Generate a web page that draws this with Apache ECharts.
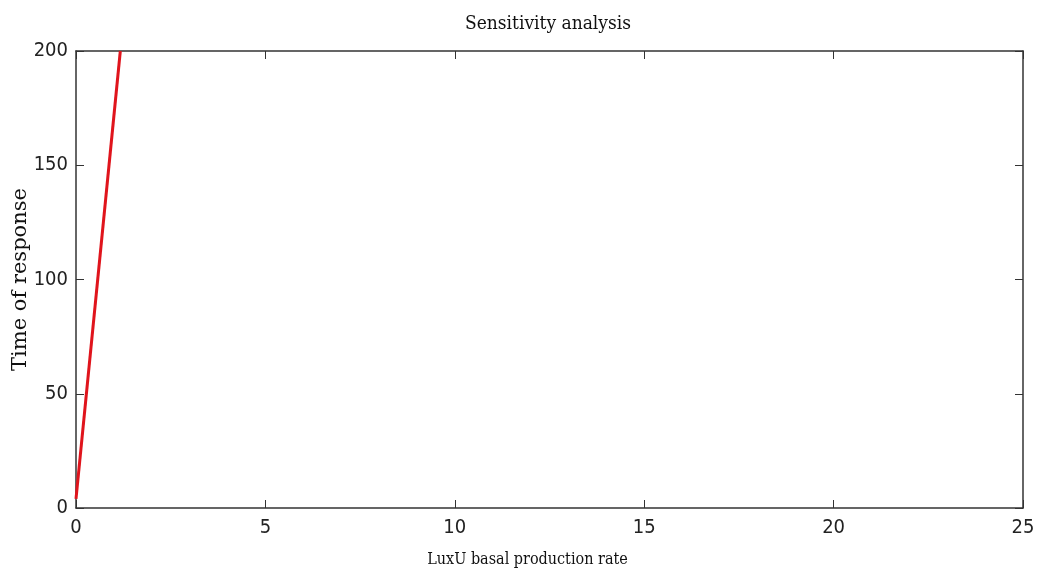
<!DOCTYPE html>
<html><head><meta charset="utf-8">
<script src="https://cdn.jsdelivr.net/npm/echarts@6/dist/echarts.min.js"></script>
<style>html,body{margin:0;padding:0;background:#fff}#c{width:1039px;height:588px}</style>
</head><body><div id="c"></div>
<script>
const xValues = [0, 1.17];
const yValues = [4, 200];
const xTicks = [0, 5, 10, 15, 20, 25];
const yTicks = [0, 50, 100, 150, 200];
const titleText = 'Sensitivity analysis';
const xName = 'LuxU basal production rate';
const yName = 'Time of response';

const chart = echarts.init(document.getElementById('c'));
const tickFont = {color:'#222', fontFamily:"'Liberation Sans Narrow', 'DejaVu Sans Condensed', 'Roboto Condensed', sans-serif", fontSize:20};
const axLine = {show:true, onZero:false, lineStyle:{color:'#333', width:1.5}};
const ticks = {show:true, inside:true, length:8, lineStyle:{color:'#333', width:1}};
function xa(pos, show){
  return {type:'value', position:pos, min:0, max:25, interval:5,
    axisLine:axLine, axisTick:ticks, splitLine:{show:false},
    axisLabel:Object.assign({show:show, margin:10}, tickFont),
    name: show? xName : '', nameLocation:'middle', nameGap:44,
    nameTextStyle:{fontFamily:"'DejaVu Serif Condensed', 'DejaVu Serif', serif", fontSize:16, color:'#111', padding:[0,44,0,0]}};
}
function ya(pos, show){
  return {type:'value', position:pos, min:0, max:200, interval:50,
    axisLine:axLine, axisTick:ticks, splitLine:{show:false},
    axisLabel:Object.assign({show:show, margin:8}, tickFont),
    name: show? yName : '', nameLocation:'middle', nameGap:45, nameMoveOverlap:false,
    nameTextStyle:{fontFamily:"'DejaVu Serif', serif", fontSize:21, color:'#111'}};
}
chart.setOption({
  animation:false,
  backgroundColor:'#fff',
  title:{text:titleText, left:460, top:10,
    textStyle:{fontFamily:"'DejaVu Serif Condensed', 'DejaVu Serif', serif", fontWeight:'normal', fontSize:19, color:'#111'}},
  grid:{left:76, right:16, top:51, bottom:80, outerBoundsMode:'none', containLabel:false},
  xAxis:[xa('bottom', true), xa('top', false)],
  yAxis:[ya('left', true), ya('right', false)],
  series:[{type:'line', data:xValues.map((x,i)=>[x, yValues[i]]), showSymbol:false,
    lineStyle:{color:'#e0141c', width:3}, xAxisIndex:0, yAxisIndex:0}]
});
</script></body></html>
